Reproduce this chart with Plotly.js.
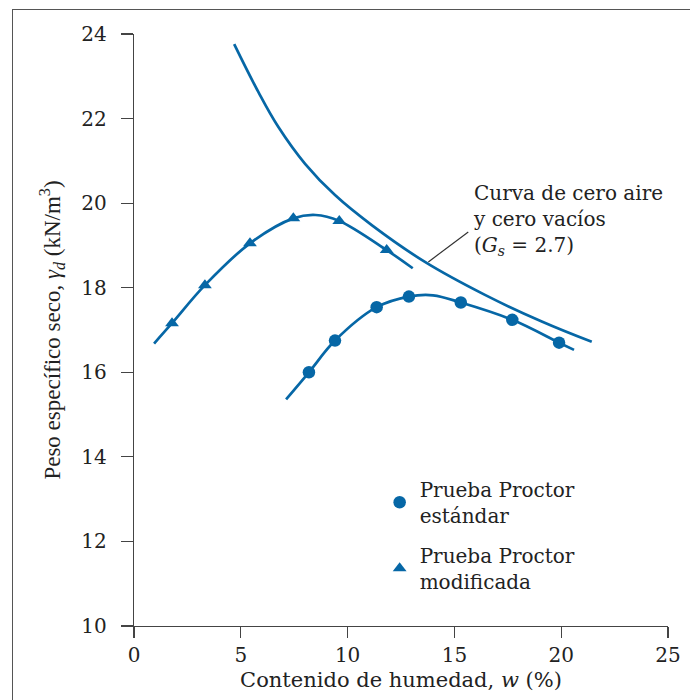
<!DOCTYPE html>
<html>
<head>
<meta charset="utf-8">
<script src="https://cdn.plot.ly/plotly-3.0.1.min.js"></script>
<style>
  html, body { margin: 0; padding: 0; background: #fff; }
  #frame { position: absolute; left: 12px; top: 9px; width: 690px; height: 700px;
           border-left: 1.5px solid #555; border-top: 1.5px solid #555; pointer-events: none; z-index: 5; }
  #chart { position: absolute; left: 0; top: 0; width: 690px; height: 700px; }
</style>
</head>
<body>
<div id="chart"></div>
<div id="frame"></div>
<script>
// Zero-air-voids curve (Gs = 2.7)
const zavW = [4.69, 5.82, 6.76, 8.01, 9.41, 11.13, 13.62, 16.43, 19.09, 21.43];
const zavG = [23.76, 22.63, 21.80, 20.93, 20.19, 19.48, 18.61, 17.83, 17.20, 16.72];

// Standard Proctor test points
const stdW = [8.19, 9.41, 11.36, 12.87, 15.30, 17.71, 19.90];
const stdG = [16.00, 16.75, 17.54, 17.79, 17.65, 17.24, 16.70];
// Standard Proctor fitted curve
const stdCurveW = [7.12, 8.19, 9.41, 11.36, 12.87, 14.0, 15.30, 17.71, 19.90, 20.6];
const stdCurveG = [15.36, 16.00, 16.75, 17.54, 17.79, 17.82, 17.65, 17.24, 16.70, 16.53];

// Modified Proctor test points
const modW = [1.78, 3.32, 5.43, 7.46, 9.61, 11.83];
const modG = [17.16, 18.06, 19.05, 19.64, 19.58, 18.89];
// Modified Proctor fitted curve
const modCurveW = [0.94, 1.78, 3.32, 5.43, 7.46, 8.5, 9.61, 11.83, 13.05];
const modCurveG = [16.68, 17.16, 18.06, 19.05, 19.64, 19.72, 19.58, 18.89, 18.46];

// Labels
const xTickVals = [0, 5, 10, 15, 20, 25];
const yTickVals = [10, 12, 14, 16, 18, 20, 22, 24];
const legendStd = 'Prueba Proctor<br>estándar';
const legendMod = 'Prueba Proctor<br>modificada';
const zavLabel = 'Curva de cero aire<br>y cero vacíos<br>(<i>G<sub>s</sub></i> = 2.7)';
const xTitle = 'Contenido de humedad, <i>w</i> (%)';
const yTitle = 'Peso específico seco, <i>γ<sub>d</sub></i> (kN/m<sup>3</sup>)';

const BLUE = '#0667a6';
const TXT = '#222';
const SERIF = 'DejaVu Serif, serif';

const traces = [
  { x: zavW, y: zavG, mode: 'lines', line: { color: BLUE, width: 2.7, shape: 'spline', smoothing: 1.1 },
    showlegend: false, hoverinfo: 'skip' },
  { x: stdCurveW, y: stdCurveG, mode: 'lines', line: { color: BLUE, width: 2.7, shape: 'spline' },
    showlegend: false, hoverinfo: 'skip' },
  { x: modCurveW, y: modCurveG, mode: 'lines', line: { color: BLUE, width: 2.7, shape: 'spline' },
    showlegend: false, hoverinfo: 'skip' },
  { x: stdW, y: stdG, mode: 'markers', name: legendStd, legendgroup: 'a',
    marker: { symbol: 'circle', size: 12.5, color: BLUE } },
  { x: modW, y: modG, mode: 'markers', name: legendMod, legendgroup: 'b',
    marker: { symbol: 'triangle-up', size: 12, color: BLUE } }
];

const layout = {
  width: 690, height: 700,
  margin: { l: 134, r: 22, t: 34, b: 74, pad: 0 },
  paper_bgcolor: '#fff', plot_bgcolor: '#fff',
  font: { family: SERIF, size: 20, color: TXT },
  xaxis: {
    range: [0, 25], tickvals: xTickVals, ticks: 'outside', ticklen: 11, tickwidth: 1.2,
    tickcolor: '#444', showline: true, linecolor: '#444', linewidth: 1.2,
    showgrid: false, zeroline: false, automargin: false,
    tickfont: { family: SERIF, size: 20, color: TXT },
    title: { text: xTitle, font: { family: SERIF, size: 21, color: TXT }, standoff: 6 }
  },
  yaxis: {
    range: [10, 24], tickvals: yTickVals, ticks: 'outside', ticklen: 12, tickwidth: 1.2,
    tickcolor: '#444', showline: true, linecolor: '#444', linewidth: 1.2,
    showgrid: false, zeroline: false, automargin: false, ticklabelstandoff: 10,
    tickfont: { family: SERIF, size: 20, color: TXT },
    title: { text: yTitle, font: { family: 'Liberation Serif, serif', size: 23, color: TXT }, standoff: 14 }
  },
  legend: {
    x: 0.46, xanchor: 'left', y: 0.264, yanchor: 'top',
    traceorder: 'grouped', tracegroupgap: 11,
    font: { family: SERIF, size: 20, color: TXT }, bgcolor: 'rgba(0,0,0,0)'
  },
  annotations: [
    { xref: 'x', yref: 'y', x: 15.8, y: 19.60, text: zavLabel, showarrow: false,
      xanchor: 'left', yanchor: 'middle', align: 'left',
      font: { family: SERIF, size: 20, color: TXT } }
  ],
  shapes: [
    { type: 'line', xref: 'x', yref: 'y', x0: 13.78, y0: 18.61, x1: 15.65, y1: 19.32,
      line: { color: '#333', width: 1.2 } }
  ]
};

Plotly.newPlot('chart', traces, layout, { displayModeBar: false, staticPlot: true });
</script>
</body>
</html>
